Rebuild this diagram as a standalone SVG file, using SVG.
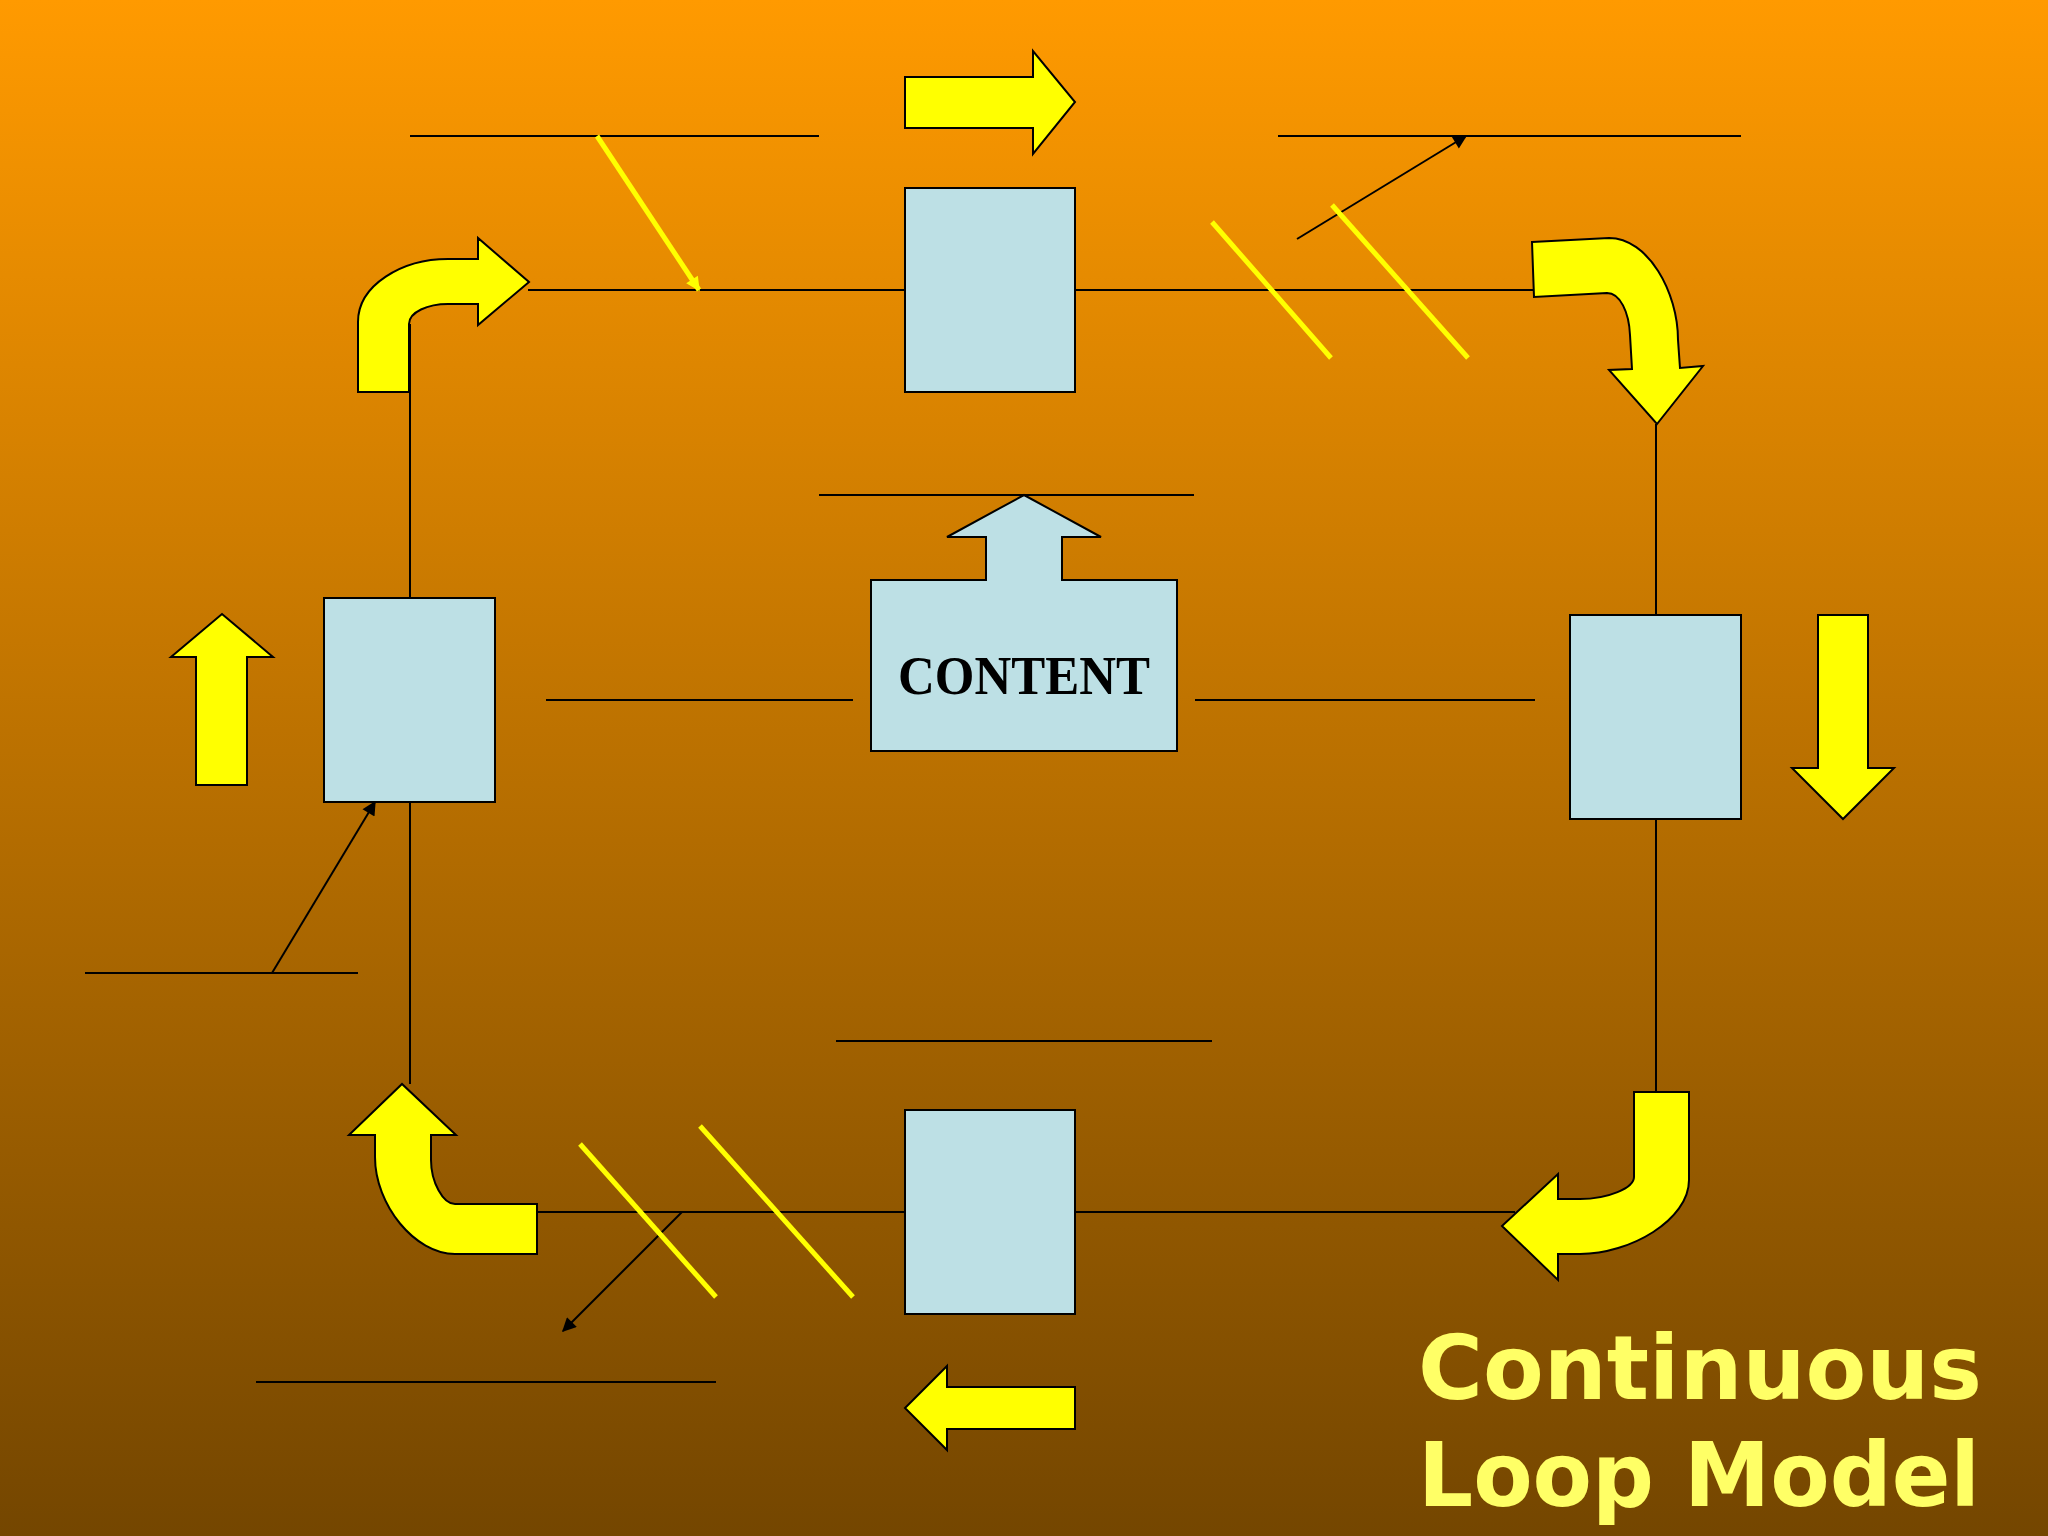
<svg xmlns="http://www.w3.org/2000/svg" width="2048" height="1536" viewBox="0 0 2048 1536">
<defs>
<linearGradient id="bg" x1="0" y1="0" x2="0" y2="1">
<stop offset="0" stop-color="#FF9A00"/>
<stop offset="1" stop-color="#744600"/>
</linearGradient>
<marker id="ah" viewBox="0 0 10 10" refX="9" refY="5" markerWidth="16" markerHeight="14" orient="auto" markerUnits="userSpaceOnUse">
<path d="M0,0 L10,5 L0,10 Z" fill="#000"/>
</marker>
<marker id="ay" viewBox="0 0 10 10" refX="9" refY="5" markerWidth="16" markerHeight="14" orient="auto" markerUnits="userSpaceOnUse">
<path d="M0,0 L10,5 L0,10 Z" fill="#FFFF00"/>
</marker>
<style>
.ln{stroke:#000;stroke-width:2;fill:none}
.yl{stroke:#FFFF00;stroke-width:5;fill:none}
.box{fill:#BDE0E5;stroke:#000;stroke-width:2}
.ya{fill:#FFFF00;stroke:#000;stroke-width:2;stroke-linejoin:miter}
.title{font-family:"DejaVu Sans",Verdana,sans-serif;font-weight:bold;font-size:89px;fill:#FFFF66}
.ct{font-family:"Liberation Serif","Times New Roman",serif;font-weight:bold;font-size:54px;fill:#000}
</style>
</defs>
<rect x="0" y="0" width="2048" height="1536" fill="url(#bg)"/>

<g id="connectors">
<line class="ln" x1="410" y1="324" x2="410" y2="1084"/>
<line class="ln" x1="528" y1="290" x2="1535" y2="290"/>
<line class="ln" x1="1656" y1="424" x2="1656" y2="1092"/>
<line class="ln" x1="537" y1="1212" x2="1515" y2="1212"/>
<line class="ln" x1="410" y1="136" x2="819" y2="136"/>
<line class="ln" x1="1278" y1="136" x2="1741" y2="136"/>
<line class="ln" x1="819" y1="495" x2="1194" y2="495"/>
<line class="ln" x1="546" y1="700" x2="853" y2="700"/>
<line class="ln" x1="1195" y1="700" x2="1535" y2="700"/>
<line class="ln" x1="836" y1="1041" x2="1212" y2="1041"/>
<line class="ln" x1="85" y1="973" x2="358" y2="973"/>
<line class="ln" x1="256" y1="1382" x2="716" y2="1382"/>
<line class="ln" x1="272" y1="973" x2="375" y2="802" marker-end="url(#ah)"/>
<line class="ln" x1="1297" y1="239" x2="1466" y2="136" marker-end="url(#ah)"/>
<line class="ln" x1="682" y1="1212" x2="563" y2="1331" marker-end="url(#ah)"/>
<line class="yl" stroke-width="3" x1="597" y1="136" x2="699" y2="290" marker-end="url(#ay)"/>
<line class="yl" x1="1212" y1="222" x2="1331" y2="358"/>
<line class="yl" x1="1332" y1="205" x2="1468" y2="358"/>
<line class="yl" x1="580" y1="1144" x2="716" y2="1297"/>
<line class="yl" x1="700" y1="1126" x2="853" y2="1297"/>
</g>

<g id="box-top"><rect class="box" x="905" y="188" width="170" height="204"/></g>
<g id="box-left"><rect class="box" x="324" y="598" width="171" height="204"/></g>
<g id="box-right"><rect class="box" x="1570" y="615" width="171" height="204"/></g>
<g id="box-bottom"><rect class="box" x="905" y="1110" width="170" height="204"/></g>

<g id="content">
<path class="box" d="M871,580 L986,580 L986,537 L947,537 L1024,495 L1101,537 L1062,537 L1062,580 L1177,580 L1177,751 L871,751 Z"/>
<text class="ct" x="1024" y="694" text-anchor="middle" textLength="252" lengthAdjust="spacingAndGlyphs">CONTENT</text>
</g>

<g id="arrow-top"><path class="ya" d="M905,77 L1033,77 L1033,51 L1075,102 L1033,154 L1033,128 L905,128 Z"/></g>
<g id="arrow-left"><path class="ya" d="M196,785 L196,657 L171,657 L222,614 L273,657 L247,657 L247,785 Z"/></g>
<g id="arrow-right"><path class="ya" d="M1818,615 L1868,615 L1868,768 L1894,768 L1843,819 L1792,768 L1818,768 Z"/></g>
<g id="arrow-bottom"><path class="ya" d="M1075,1387 L947,1387 L947,1366 L905,1408 L947,1450 L947,1429 L1075,1429 Z"/></g>

<g id="curve-top-left"><path class="ya" d="M358,392 L358,322 C358,285 402,259 448,259 L478,259 L478,238 L529,282 L478,325 L478,304 L448,304 C428,304 409,312 409,324 L409,392 Z"/></g>
<g id="curve-top-right"><path class="ya" d="M1532,242 L1609,238 C1648,238 1678,292 1678,340 L1680,368 L1703,366 L1657,424 L1609,370 L1632,369 L1630,335 C1629,312 1620,293 1607,293 L1534,297 Z"/></g>
<g id="curve-bottom-right"><path class="ya" d="M1634,1092 L1689,1092 L1689,1180 C1689,1220 1630,1254 1580,1254 L1558,1254 L1558,1280 L1502,1226 L1558,1174 L1558,1199 L1580,1199 C1608,1199 1634,1188 1634,1177 Z"/></g>
<g id="curve-bottom-left"><path class="ya" d="M537,1204 L537,1254 L455,1254 C415,1254 375,1205 375,1157 L375,1135 L349,1135 L402,1084 L456,1135 L431,1135 L431,1160 C431,1182 443,1204 455,1204 Z"/></g>

<g id="title">
<text class="title" x="1418" y="1399" textLength="564" lengthAdjust="spacingAndGlyphs">Continuous</text>
<text class="title" x="1418" y="1506" textLength="562" lengthAdjust="spacingAndGlyphs">Loop Model</text>
</g>
</svg>
